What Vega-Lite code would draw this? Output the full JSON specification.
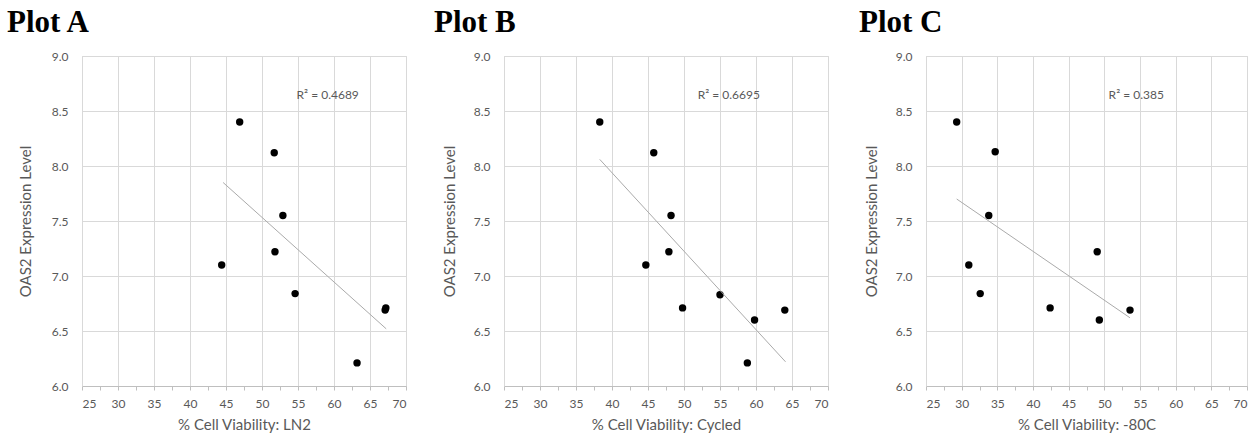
{
  "$schema": "https://vega.github.io/schema/vega-lite/v6.json",
  "background": "white",
  "padding": {"left": 6, "top": 6, "right": 5, "bottom": 0},
  "spacing": 98,
  "bounds": "flush",
  "datasets": {
    "points": [
      {"panel": "A", "x": 46.9, "y": 8.40}, {"panel": "A", "x": 51.7, "y": 8.12}, {"panel": "A", "x": 52.9, "y": 7.55},
      {"panel": "A", "x": 51.8, "y": 7.22}, {"panel": "A", "x": 44.4, "y": 7.10}, {"panel": "A", "x": 54.6, "y": 6.84},
      {"panel": "A", "x": 67.1, "y": 6.69}, {"panel": "A", "x": 67.2, "y": 6.71}, {"panel": "A", "x": 63.2, "y": 6.21},
      {"panel": "B", "x": 38.3, "y": 8.40}, {"panel": "B", "x": 45.8, "y": 8.12}, {"panel": "B", "x": 48.2, "y": 7.55},
      {"panel": "B", "x": 47.9, "y": 7.22}, {"panel": "B", "x": 44.7, "y": 7.10}, {"panel": "B", "x": 49.8, "y": 6.71},
      {"panel": "B", "x": 55.0, "y": 6.83}, {"panel": "B", "x": 59.8, "y": 6.60}, {"panel": "B", "x": 64.0, "y": 6.69},
      {"panel": "B", "x": 58.8, "y": 6.21},
      {"panel": "C", "x": 29.3, "y": 8.40}, {"panel": "C", "x": 34.7, "y": 8.13}, {"panel": "C", "x": 33.8, "y": 7.55},
      {"panel": "C", "x": 31.0, "y": 7.10}, {"panel": "C", "x": 32.6, "y": 6.84}, {"panel": "C", "x": 42.4, "y": 6.71},
      {"panel": "C", "x": 49.0, "y": 7.22}, {"panel": "C", "x": 49.3, "y": 6.60}, {"panel": "C", "x": 53.6, "y": 6.69}
    ],
    "trend": [
      {"panel": "A", "x": 44.6, "y": 7.85}, {"panel": "A", "x": 67.25, "y": 6.52},
      {"panel": "B", "x": 38.3, "y": 8.06}, {"panel": "B", "x": 64.1, "y": 6.22},
      {"panel": "C", "x": 29.3, "y": 7.70}, {"panel": "C", "x": 53.6, "y": 6.62}
    ],
    "r2": [
      {"panel": "A", "x": 54.8, "y": 8.645, "label": "R² = 0.4689"},
      {"panel": "B", "x": 51.9, "y": 8.645, "label": "R² = 0.6695"},
      {"panel": "C", "x": 50.6, "y": 8.645, "label": "R² = 0.385"}
    ]
  },
  "config": {
    "view": {"stroke": "#d9d9d9", "strokeWidth": 1},
    "axis": {
      "labelFont": "Lato", "labelFontSize": 12, "labelColor": "#595959", "labelOverlap": false,
      "titleFont": "Lato", "titleFontSize": 15, "titleColor": "#595959", "titleFontWeight": "normal",
      "gridColor": "#d9d9d9", "domainColor": "#bfbfbf", "tickColor": "#bfbfbf"
    },
    "title": {"font": "Liberation Serif", "fontSize": 31, "fontWeight": "bold", "color": "#000000", "anchor": "start", "frame": "group", "offset": 11}
  },
  "hconcat": [
    {
      "title": {"text": "Plot A", "dx": -75},
      "width": 324, "height": 330,
      "layer": [
        {
          "data": {"name": "points"},
          "transform": [{"filter": "datum.panel === 'A'"}],
          "mark": {"type": "circle", "size": 55, "color": "#000000", "opacity": 1},
          "encoding": {
            "x": {"field": "x", "type": "quantitative", "scale": {"domain": [25, 70], "nice": false, "zero": false},
              "axis": {"title": "% Cell Viability: LN2", "values": [25, 27.5, 30, 32.5, 35, 37.5, 40, 42.5, 45, 47.5, 50, 52.5, 55, 57.5, 60, 62.5, 65, 67.5, 70],
                "tickCount": 100,
                "labelExpr": "datum.value % 5 === 0 ? format(datum.value, 'd') : ''",
                "gridOpacity": {"condition": {"test": "datum.value % 5 !== 0", "value": 0}, "value": 1},
                "tickSize": 4, "labelPadding": 8, "titlePadding": 8}},
            "y": {"field": "y", "type": "quantitative", "scale": {"domain": [6, 9], "nice": false, "zero": false},
              "axis": {"title": "OAS2 Expression Level", "values": [6, 6.5, 7, 7.5, 8, 8.5, 9], "tickCount": 20, "format": ".1f", "ticks": false, "domainColor": "#d9d9d9", "labelPadding": 14, "titlePadding": 18}}
          }
        },
        {
          "data": {"name": "trend"},
          "transform": [{"filter": "datum.panel === 'A'"}],
          "mark": {"type": "line", "color": "#aaaaaa", "strokeWidth": 1},
          "encoding": {"x": {"field": "x", "type": "quantitative"}, "y": {"field": "y", "type": "quantitative"}}
        },
        {
          "data": {"name": "r2"},
          "transform": [{"filter": "datum.panel === 'A'"}],
          "mark": {"type": "text", "align": "left", "baseline": "middle", "font": "Lato", "fontSize": 12, "color": "#595959"},
          "encoding": {"x": {"field": "x", "type": "quantitative"}, "y": {"field": "y", "type": "quantitative"}, "text": {"field": "label"}}
        }
      ]
    },
    {
      "title": {"text": "Plot B", "dx": -70},
      "width": 324, "height": 330,
      "layer": [
        {
          "data": {"name": "points"},
          "transform": [{"filter": "datum.panel === 'B'"}],
          "mark": {"type": "circle", "size": 55, "color": "#000000", "opacity": 1},
          "encoding": {
            "x": {"field": "x", "type": "quantitative", "scale": {"domain": [25, 70], "nice": false, "zero": false},
              "axis": {"title": "% Cell Viability: Cycled", "values": [25, 27.5, 30, 32.5, 35, 37.5, 40, 42.5, 45, 47.5, 50, 52.5, 55, 57.5, 60, 62.5, 65, 67.5, 70],
                "tickCount": 100,
                "labelExpr": "datum.value % 5 === 0 ? format(datum.value, 'd') : ''",
                "gridOpacity": {"condition": {"test": "datum.value % 5 !== 0", "value": 0}, "value": 1},
                "tickSize": 4, "labelPadding": 8, "titlePadding": 8}},
            "y": {"field": "y", "type": "quantitative", "scale": {"domain": [6, 9], "nice": false, "zero": false},
              "axis": {"title": "OAS2 Expression Level", "values": [6, 6.5, 7, 7.5, 8, 8.5, 9], "tickCount": 20, "format": ".1f", "ticks": false, "domainColor": "#d9d9d9", "labelPadding": 14, "titlePadding": 16}}
          }
        },
        {
          "data": {"name": "trend"},
          "transform": [{"filter": "datum.panel === 'B'"}],
          "mark": {"type": "line", "color": "#aaaaaa", "strokeWidth": 1},
          "encoding": {"x": {"field": "x", "type": "quantitative"}, "y": {"field": "y", "type": "quantitative"}}
        },
        {
          "data": {"name": "r2"},
          "transform": [{"filter": "datum.panel === 'B'"}],
          "mark": {"type": "text", "align": "left", "baseline": "middle", "font": "Lato", "fontSize": 12, "color": "#595959"},
          "encoding": {"x": {"field": "x", "type": "quantitative"}, "y": {"field": "y", "type": "quantitative"}, "text": {"field": "label"}}
        }
      ]
    },
    {
      "title": {"text": "Plot C", "dx": -67},
      "width": 321, "height": 330,
      "layer": [
        {
          "data": {"name": "points"},
          "transform": [{"filter": "datum.panel === 'C'"}],
          "mark": {"type": "circle", "size": 55, "color": "#000000", "opacity": 1},
          "encoding": {
            "x": {"field": "x", "type": "quantitative", "scale": {"domain": [25, 70], "nice": false, "zero": false},
              "axis": {"title": "% Cell Viability: -80C", "values": [25, 27.5, 30, 32.5, 35, 37.5, 40, 42.5, 45, 47.5, 50, 52.5, 55, 57.5, 60, 62.5, 65, 67.5, 70],
                "tickCount": 100,
                "labelExpr": "datum.value % 5 === 0 ? format(datum.value, 'd') : ''",
                "gridOpacity": {"condition": {"test": "datum.value % 5 !== 0", "value": 0}, "value": 1},
                "tickSize": 4, "labelPadding": 8, "titlePadding": 8}},
            "y": {"field": "y", "type": "quantitative", "scale": {"domain": [6, 9], "nice": false, "zero": false},
              "axis": {"title": "OAS2 Expression Level", "values": [6, 6.5, 7, 7.5, 8, 8.5, 9], "tickCount": 20, "format": ".1f", "ticks": false, "domainColor": "#d9d9d9", "labelPadding": 14, "titlePadding": 16}}
          }
        },
        {
          "data": {"name": "trend"},
          "transform": [{"filter": "datum.panel === 'C'"}],
          "mark": {"type": "line", "color": "#aaaaaa", "strokeWidth": 1},
          "encoding": {"x": {"field": "x", "type": "quantitative"}, "y": {"field": "y", "type": "quantitative"}}
        },
        {
          "data": {"name": "r2"},
          "transform": [{"filter": "datum.panel === 'C'"}],
          "mark": {"type": "text", "align": "left", "baseline": "middle", "font": "Lato", "fontSize": 12, "color": "#595959"},
          "encoding": {"x": {"field": "x", "type": "quantitative"}, "y": {"field": "y", "type": "quantitative"}, "text": {"field": "label"}}
        }
      ]
    }
  ]
}
